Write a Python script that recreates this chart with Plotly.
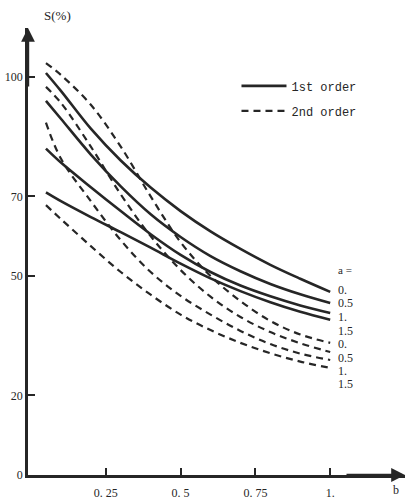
import plotly.graph_objects as go

b = [0.05, 0.1, 0.2, 0.3, 0.4, 0.5, 0.6, 0.7, 0.8, 0.9, 1.0]
a_values = ["0.", "0.5", "1.", "1.5"]

first_order = [
    [101, 96.5, 87, 79, 72.2, 66.3, 61.2, 56.8, 52.8, 49.3, 46],
    [94, 89.5, 80.5, 72.5, 65.5, 59.8, 55, 51.2, 48, 45.4, 43.2],
    [82, 78.5, 72.3, 66.3, 60.5, 55.3, 51, 47.6, 44.9, 42.6, 40.7],
    [71, 68.8, 64.8, 61, 57.1, 53.1, 49.4, 46.2, 43.4, 41, 39],
]
second_order = [
    [103.5, 100.5, 93, 82.5, 70, 58.5, 50, 43.7, 38.7, 35.3, 33.2],
    [97.5, 93.5, 82.5, 70.5, 60, 51.5, 44.8, 39.7, 35.9, 33.1, 30.9],
    [88.5, 79.5, 68.8, 59, 51, 45, 40.3, 36.2, 32.9, 30.5, 28.9],
    [67.8, 64.3, 57.5, 51, 45.3, 40.3, 36.4, 33.2, 30.6, 28.5, 26.9],
]

x_tickvals = [0.25, 0.5, 0.75, 1.0]
x_ticktext = ["0. 25", "0. 5", "0. 75", "1."]
y_tickvals = [0, 20, 50, 70, 100]
y_ticktext = ["0", "20", "50", "70", "100"]

series_names = ["1st order", "2nd order"]

# label positions (S units) for the right-hand a labels
label_y_first = [46.6, 43.3, 39.6, 36.3]
label_y_second = [32.8, 29.5, 26.2, 22.9]

ink = "#262626"
fig = go.Figure()

for i, ys in enumerate(first_order):
    fig.add_trace(go.Scatter(
        x=b, y=ys, mode="lines", line=dict(color=ink, width=2.6, shape="spline"),
        name=series_names[0], legendgroup="first", showlegend=(i == 0)))
for i, ys in enumerate(second_order):
    fig.add_trace(go.Scatter(
        x=b, y=ys, mode="lines",
        line=dict(color=ink, width=2.2, shape="spline", dash="7px,5px"),
        name=series_names[1], legendgroup="second", showlegend=(i == 0)))

serif = "Liberation Serif, DejaVu Serif, serif"
annotations = []
annotations.append(dict(x=1.02, y=51.6, xref="x", yref="y", text="a =",
                        showarrow=False, xanchor="left", yanchor="middle",
                        font=dict(family=serif, size=11, color=ink)))
for lab, yv in zip(a_values, label_y_first):
    annotations.append(dict(x=1.02, y=yv, xref="x", yref="y", text=lab,
                            showarrow=False, xanchor="left", yanchor="middle",
                            font=dict(family=serif, size=12, color=ink)))
for lab, yv in zip(a_values, label_y_second):
    annotations.append(dict(x=1.02, y=yv, xref="x", yref="y", text=lab,
                            showarrow=False, xanchor="left", yanchor="middle",
                            font=dict(family=serif, size=12, color=ink)))

# axis arrows
annotations.append(dict(x=0, y=1.0, xref="paper", yref="paper", ax=0, ay=60,
                        showarrow=True, arrowhead=2, arrowsize=1.15, arrowwidth=2.4,
                        arrowcolor=ink, text=""))
annotations.append(dict(x=1.0, y=0, xref="paper", yref="paper", ax=-60, ay=0,
                        showarrow=True, arrowhead=2, arrowsize=1.15, arrowwidth=2.4,
                        arrowcolor=ink, text=""))
# axis titles
annotations.append(dict(x=0.037, y=1.05, xref="paper", yref="paper", text="S(%)",
                        showarrow=False, font=dict(family=serif, size=13, color=ink)))
annotations.append(dict(x=0.99, y=-0.033, xref="paper", yref="paper", text="b",
                        showarrow=False, yanchor="middle",
                        font=dict(family=serif, size=12, color=ink)))

fig.update_layout(
    width=411, height=501,
    margin=dict(l=28, r=6, t=28, b=26, autoexpand=False),
    paper_bgcolor="white", plot_bgcolor="white",
    showlegend=True,
    legend=dict(x=0.553, y=0.903, xanchor="left", yanchor="top",
                bgcolor="rgba(0,0,0,0)", tracegroupgap=6, itemwidth=45,
                font=dict(family="Liberation Mono, DejaVu Sans Mono, monospace",
                          size=12, color=ink)),
    annotations=annotations,
    xaxis=dict(range=[-0.01, 1.25], showgrid=False, zeroline=False,
               showline=True, linecolor=ink, linewidth=2.5, automargin=False,
               tickvals=x_tickvals, ticktext=x_ticktext, ticks="inside",
               ticklen=7, tickwidth=2, tickcolor=ink, ticklabelstandoff=5,
               tickfont=dict(family=serif, size=12, color=ink)),
    yaxis=dict(range=[0, 112.3], showgrid=False, zeroline=False,
               showline=True, linecolor=ink, linewidth=2.5, automargin=False,
               tickvals=y_tickvals, ticktext=y_ticktext, ticks="inside",
               ticklen=7, tickwidth=2, tickcolor=ink,
               tickfont=dict(family=serif, size=12, color=ink)),
)

fig.write_html("out.html", config={"displayModeBar": False},
               post_script="document.body.style.margin='0';")
